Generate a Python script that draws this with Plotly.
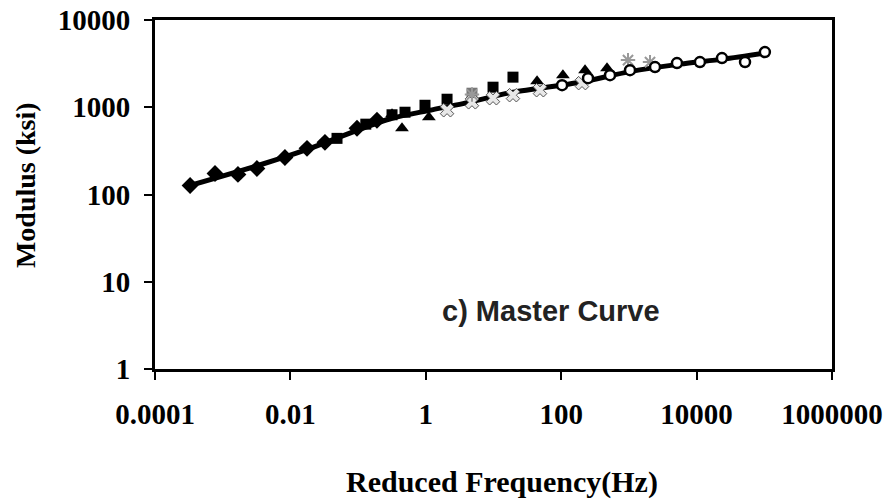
import plotly.graph_objects as go

# ---- data ----
diam_f = [3.3e-4, 7.7e-4, 1.68e-3, 3.2e-3, 8.3e-3, 0.0176, 0.0324, 0.0964, 0.19]
diam_E = [127, 174, 170, 199, 266, 338, 396, 574, 710]

sq_f = [0.0488, 0.13, 0.317, 0.493, 0.973, 2.06, 9.84, 19.4]
sq_E = [440, 640, 820, 877, 1054, 1236, 1698, 2213]

sqg_f = [4.81]
sqg_E = [1449]

tri_f = [0.317, 0.445, 1.11, 44, 106, 225, 475]
tri_E = [831, 574, 767, 1991, 2333, 2661, 2805]

x_f = [2.06, 4.81, 9.84, 19.4, 48.6, 203]
x_E = [924, 1140, 1268, 1374, 1567, 1888]

ast_f = [4.81, 970, 2050]
ast_E = [1400, 3470, 3290]

circ_f = [103, 249, 526, 1038, 2430, 5130, 11200, 23700, 51900, 102000]
circ_E = [1791, 2153, 2333, 2661, 2884, 3206, 3290, 3659, 3290, 4286]

fit_f = [3.3e-4, 3.32e-3, 0.0195, 0.0964, 0.317, 1.15, 3.54, 19.4, 190, 1038, 5690, 24500, 102000]
fit_E = [127, 215, 338, 544, 748, 924, 1100, 1487, 1937, 2560, 3120, 3562, 4176]

x_tickvals = [1e-4, 1e-2, 1, 1e2, 1e4, 1e6]
x_ticktext = ["0.0001", "0.01", "1", "100", "10000", "1000000"]
y_tickvals = [1, 10, 100, 1000, 10000]
y_ticktext = ["1", "10", "100", "1000", "10000"]

SERIF = "Liberation Serif, Times New Roman, serif"

fig = go.Figure()

fig.add_trace(go.Scatter(x=fit_f, y=fit_E, mode="lines",
                         line=dict(color="black", width=5, shape="spline", smoothing=0.8),
                         showlegend=False))
fig.add_trace(go.Scatter(x=diam_f, y=diam_E, mode="markers",
                         marker=dict(symbol="diamond", size=13, color="black"),
                         showlegend=False))
fig.add_trace(go.Scatter(x=sq_f, y=sq_E, mode="markers",
                         marker=dict(symbol="square", size=11, color="black"),
                         showlegend=False))
fig.add_trace(go.Scatter(x=sqg_f, y=sqg_E, mode="markers",
                         marker=dict(symbol="square", size=11, color="#777777"),
                         showlegend=False))
fig.add_trace(go.Scatter(x=tri_f, y=tri_E, mode="markers",
                         marker=dict(symbol="triangle-up", size=12, color="black"),
                         showlegend=False))
fig.add_trace(go.Scatter(x=x_f, y=x_E, mode="markers",
                         marker=dict(symbol="x", size=12, color="#e8e8e8",
                                     line=dict(color="#555555", width=1)),
                         showlegend=False))
fig.add_trace(go.Scatter(x=ast_f, y=ast_E, mode="markers",
                         marker=dict(symbol="asterisk-open", size=12, color="#999999",
                                     line=dict(color="#999999", width=2)),
                         showlegend=False))
fig.add_trace(go.Scatter(x=circ_f, y=circ_E, mode="markers",
                         marker=dict(symbol="circle", size=10, color="white",
                                     line=dict(color="black", width=2.5)),
                         showlegend=False))

fig.update_xaxes(type="log", range=[-4, 6], tickvals=x_tickvals, ticktext=x_ticktext,
                 showgrid=False, zeroline=False, showline=True, linecolor="black",
                 linewidth=3, mirror=True, ticks="outside", ticklen=8, tickwidth=1.5,
                 tickcolor="black", ticklabelstandoff=9, automargin=False,
                 tickfont=dict(family=SERIF, size=29, color="black", weight="bold"))
fig.update_yaxes(type="log", range=[0, 4], tickvals=y_tickvals, ticktext=y_ticktext,
                 showgrid=False, zeroline=False, showline=True, linecolor="black",
                 linewidth=3, mirror=True, ticks="outside", ticklen=8, tickwidth=1.5,
                 tickcolor="black", ticklabelstandoff=8, automargin=False,
                 tickfont=dict(family=SERIF, size=29, color="black", weight="bold"))

fig.add_annotation(text="Modulus (ksi)", xref="paper", yref="paper",
                   x=-0.192, y=0.527, xanchor="center", yanchor="middle",
                   textangle=-90, showarrow=False,
                   font=dict(family=SERIF, size=28, color="black", weight="bold"))
fig.add_annotation(text="Reduced Frequency(Hz)", xref="paper", yref="paper",
                   x=(502 - 155) / 677, y=(369 - 482) / 349, xanchor="center", yanchor="middle",
                   showarrow=False,
                   font=dict(family=SERIF, size=30, color="black", weight="bold"))
fig.add_annotation(text="c) Master Curve", xref="paper", yref="paper",
                   x=(551 - 155) / 677, y=(369 - 311) / 349, xanchor="center", yanchor="middle",
                   showarrow=False,
                   font=dict(family="Liberation Sans, Arial, sans-serif", size=29,
                             color="#222222", weight="bold"))

fig.update_layout(width=891, height=501, margin=dict(l=155, r=59, t=20, b=132),
                  plot_bgcolor="white", paper_bgcolor="white", showlegend=False)

fig.write_html("out.html")
